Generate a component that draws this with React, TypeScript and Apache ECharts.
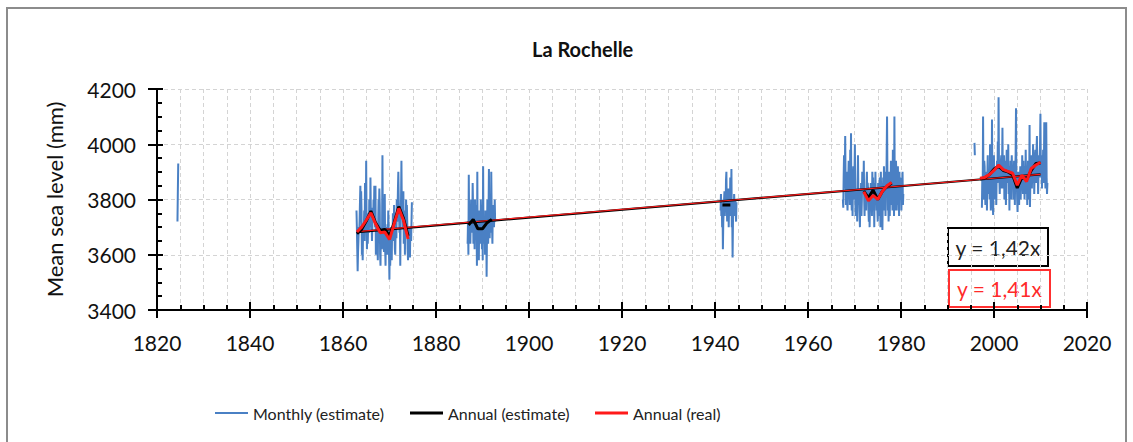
import React, { useEffect, useRef } from "react";
import * as echarts from "echarts";

// ---- Data ----
const xMin = 1820;
const xMax = 2020;
const yMin = 3400;
const yMax = 4200;

// Monthly (estimate) segments: start year + monthly values
const m1824Start = 1824.4;
const m1824 = [3720, 3830, 3930];

const m1863Start = 1862.9;
const m1863 = [
  3760, 3700, 3620, 3540, 3610, 3650, 3700, 3680, 3720, 3790, 3850, 3720,
  3830, 3760, 3600, 3640, 3580, 3690, 3650, 3700, 3760, 3650, 3860, 3720,
  3700, 3940, 3720, 3620, 3690, 3640, 3700, 3750, 3680, 3800, 3760, 3700,
  3880, 3760, 3690, 3720, 3650, 3700, 3770, 3720, 3800, 3740, 3850, 3760,
  3700, 3850, 3600, 3680, 3640, 3710, 3660, 3580, 3720, 3800, 3760, 3840,
  3780, 3600, 3560, 3700, 3640, 3620, 3690, 3960, 3700, 3650, 3630, 3610,
  3740, 3820, 3620, 3560, 3700, 3650, 3690, 3600, 3710, 3640, 3760, 3700,
  3600, 3510, 3680, 3560, 3640, 3700, 3620, 3580, 3700, 3650, 3750, 3720,
  3650, 3780, 3700, 3620, 3600, 3690, 3740, 3660, 3800, 3720, 3760, 3840,
  3900, 3800, 3740, 3680, 3720, 3560, 3740, 3800, 3940, 3760, 3820, 3780,
  3700, 3830, 3640, 3660, 3720, 3600, 3760, 3700, 3800, 3740, 3780, 3720,
  3620, 3580, 3700, 3640, 3600, 3680, 3590, 3700, 3660, 3650, 3720, 3790,
];

const m1887Start = 1886.8;
const m1887 = [
  3640, 3720, 3600, 3890, 3700, 3660, 3780, 3640, 3720, 3800, 3760, 3680,
  3700, 3860, 3780, 3640, 3700, 3740, 3620, 3800, 3680, 3760, 3780, 3720,
  3560, 3900, 3640, 3700, 3620, 3580, 3760, 3680, 3720, 3640, 3800, 3740,
  3700, 3620, 3780, 3580, 3920, 3660, 3700, 3640, 3720, 3600, 3760, 3680,
  3740, 3520, 3680, 3800, 3700, 3640, 3760, 3910, 3700, 3660, 3780, 3720,
  3680, 3900, 3760, 3700, 3640, 3780, 3720, 3760, 3700, 3740, 3800, 3720,
];

const m1941Start = 1941.2;
const m1941 = [
  3760, 3820, 3740, 3800, 3700, 3780, 3620, 3720, 3760, 3800, 3830, 3740,
  3820, 3760, 3870, 3900, 3780, 3720, 3800, 3760, 3840, 3700, 3780, 3820,
  3760, 3880, 3740, 3800, 3910, 3700, 3760, 3590, 3720, 3800, 3760, 3820,
  3780, 3740, 3800, 3760, 3720, 3790,
];

const m1967Start = 1967.5;
const m1967 = [
  3800, 3770, 3880, 3960, 3840, 3900,
  4030, 3860, 3780, 3820, 3900, 3800, 3760, 3840, 3880, 3940, 3820, 3860,
  3780, 3980, 3860, 4040, 3800, 3760, 3820, 3740, 3880, 3920, 3800, 3840,
  3900, 4000, 3800, 3740, 3820, 3760, 3840, 3720, 3860, 3960, 3820, 3780,
  3840, 3760, 3700, 3820, 3780, 3860, 3740, 3800, 3900, 3840, 3880, 3820,
  3940, 3800, 3740, 3840, 3780, 3820, 3760, 3860, 3900, 3800, 3860, 3840,
  3760, 3720, 3840, 3700, 3800, 3760, 3860, 3780, 3820, 3740, 3900, 3840,
  3880, 3760, 3820, 3700, 3860, 3780, 3900, 3800, 3840, 3760, 3820, 3760,
  3720, 3860, 3760, 3820, 3740, 3880, 3790, 3700, 3900, 3800, 3760, 3860,
  3690, 3800, 3880, 3760, 3920, 3840, 3780, 3860, 3740, 3900, 3820, 3960,
  4100, 3880, 3760, 3820, 3720, 3800, 3900, 3740, 3860, 3800, 3940, 3880,
  3780, 3900, 3760, 3980, 3820, 3860, 3740, 4100, 3800, 3880, 3760, 3940,
  3900, 3760, 3840, 3780, 3920, 3800, 3860, 3740, 3900, 3820, 3860, 3800,
  3880, 3760, 3840, 3800, 3900, 3780, 3820,
];

const m1996Start = 1995.8;
const m1996 = [4005, 3960];

const m1997Start = 1997.4;
const m1997 = [
  3770, 3880, 3820, 4100, 3860, 3800, 3940,
  3920, 3840, 3780, 3860, 3800, 3900, 3760, 3880, 3960, 3820, 3900, 3860,
  3880, 3800, 4000, 3840, 3760, 3900, 3820, 4090, 3860, 3780, 3744, 3920,
  3960, 3860, 3900, 3800, 3840, 3920, 3780, 3880, 3940, 3860, 4010, 3900,
  4170, 3940, 3880, 3820, 3900, 3860, 3940, 3960, 3840, 3920, 4060, 3880,
  3900, 3840, 3960, 3800, 3880, 3940, 3860, 3780, 3920, 3980, 3860, 3940,
  3880, 4000, 3820, 3900, 3760, 3920, 3860, 3940, 3800, 3880, 3960, 3900,
  3840, 3920, 3800, 3880, 3940, 3860, 3780, 3900, 3960, 4130, 3840, 3880,
  3800, 3755, 3860, 3900, 3820, 3780, 3880, 3840, 3920, 3800, 3860, 3900,
  3840, 3960, 3880, 3820, 3940, 3860, 3920, 3800, 3900, 3840, 3980, 3880,
  3820, 3900, 3780, 3860, 3940, 3800, 3880, 3840, 4070, 3773, 3860, 3900,
  3880, 3960, 3840, 3920, 3860, 4000, 3880, 3940, 3820, 3900, 3960, 3980,
  3900, 3860, 3980, 4030, 3880, 3940, 3820, 3900, 3960, 3880, 3940, 4000,
  4110, 3920, 3880, 3960, 3840, 3940, 3900, 3980, 3860, 3920, 4080, 3960,
  3900, 3840, 3960, 4080, 3880, 3820, 3860,
];

// Annual (estimate) segments
const estYearsA = [1863, 1864, 1865, 1866, 1867, 1868, 1869, 1870, 1871, 1872, 1873, 1874];
const estValsA = [3676, 3692, 3722, 3758, 3716, 3688, 3692, 3668, 3716, 3774, 3732, 3668];
const estYearsB = [1887, 1888, 1889, 1890, 1891, 1892];
const estValsB = [3708, 3728, 3694, 3694, 3716, 3728];
const estYearsC = [1941.6, 1943.3];
const estValsC = [3780, 3780];
const estYearsD = [1972, 1973, 1974, 1975, 1976, 1977, 1978];
const estValsD = [3830, 3806, 3834, 3800, 3830, 3848, 3860];
const estYearsE = [1997, 1998, 1999, 2000, 2001, 2002, 2003, 2004, 2005, 2006, 2007, 2008, 2009, 2010];
const estValsE = [3874, 3878, 3890, 3910, 3920, 3905, 3900, 3890, 3842, 3880, 3872, 3905, 3930, 3932];

// Annual (real) segments
const realYearsA = [1863, 1864, 1865, 1866, 1867, 1868, 1869, 1870, 1871, 1872, 1873, 1874];
const realValsA = [3682, 3700, 3725, 3752, 3712, 3680, 3682, 3655, 3712, 3768, 3725, 3657];
const realYearsD = [1972, 1973, 1974, 1975, 1976, 1977, 1978];
const realValsD = [3828, 3795, 3815, 3800, 3830, 3850, 3862];
const realYearsE = [1997, 1998, 1999, 2000, 2001, 2002, 2003, 2004, 2005, 2006, 2007, 2008, 2009, 2010];
const realValsE = [3877, 3880, 3890, 3905, 3925, 3908, 3902, 3895, 3852, 3888, 3865, 3912, 3925, 3935];

// Linear trends
const trendYears = [1863, 2010];
const trendEstVals = [3682, 3891];
const trendRealVals = [3684, 3891];

const eqEst = "y = 1,42x";
const eqReal = "y = 1,41x";

const NAME_M = "Monthly (estimate)";
const NAME_E = "Annual (estimate)";
const NAME_R = "Annual (real)";

const FONT = "Lato, 'Liberation Sans', sans-serif";
const BLUE = "#4a80c4";
const RED = "#ff1a1a";

function monthly(start: number, vals: number[]) {
  return vals.map((v, i) => [start + i / 12, v]);
}
function pairs(xs: number[], ys: number[]) {
  return xs.map((x, i) => [x, ys[i]]);
}

export default function App() {
  const ref = useRef<HTMLDivElement>(null);
  useEffect(() => {
    if (!ref.current) return;
    const chart = echarts.init(ref.current, undefined, { renderer: "svg" });

    const lineBase = { type: "line", showSymbol: false, symbol: "none", xAxisIndex: 0, yAxisIndex: 0 } as any;
    const monthlySegs = [
      monthly(m1824Start, m1824),
      monthly(m1863Start, m1863),
      monthly(m1887Start, m1887),
      monthly(m1941Start, m1941),
      monthly(m1967Start, m1967),
      monthly(m1996Start, m1996),
      monthly(m1997Start, m1997),
    ];
    const estSegs = [
      pairs(estYearsA, estValsA),
      pairs(estYearsB, estValsB),
      pairs(estYearsC, estValsC),
      pairs(estYearsD, estValsD),
      pairs(estYearsE, estValsE),
    ];
    const realSegs = [
      pairs(realYearsA, realValsA),
      pairs(realYearsD, realValsD),
      pairs(realYearsE, realValsE),
    ];

    const series: any[] = [];
    monthlySegs.forEach((d) =>
      series.push({ ...lineBase, name: NAME_M, data: d, z: 2, color: BLUE, lineStyle: { color: BLUE, width: 2 } })
    );
    series.push({ ...lineBase, name: "trendEst", data: pairs(trendYears, trendEstVals), z: 3, color: "#000", lineStyle: { color: "#000", width: 2.2 } });
    series.push({ ...lineBase, name: "trendReal", data: pairs(trendYears, trendRealVals), z: 4, color: RED, lineStyle: { color: RED, width: 1.2 } });
    estSegs.forEach((d) =>
      series.push({ ...lineBase, name: NAME_E, data: d, z: 5, color: "#000", lineStyle: { color: "#000", width: 3 } })
    );
    realSegs.forEach((d) =>
      series.push({ ...lineBase, name: NAME_R, data: d, z: 6, color: RED, lineStyle: { color: RED, width: 3 } })
    );

    const gridLine = { show: true, lineStyle: { color: "#d4d4d4", type: [4, 3], width: 1 } };
    const legendBase = {
      top: 400,
      icon: "rect",
      itemWidth: 33,
      itemHeight: 3,
      itemGap: 5,
      textStyle: { fontFamily: FONT, fontSize: 16, color: "#222" },
      selectedMode: false,
    };
    const plain = (v: number) => String(v);

    const option: any = {
      animation: false,
      backgroundColor: "#fff",
      title: {
        text: "La Rochelle",
        left: 527,
        top: 34,
        textStyle: { fontFamily: FONT, fontSize: 20, fontWeight: "bold", color: "#111" },
      },
      grid: { left: 157, top: 89, width: 930, height: 221, containLabel: false },
      xAxis: [
        {
          type: "value",
          min: xMin,
          max: xMax,
          interval: 20,
          position: "bottom",
          axisLine: { show: true, onZero: false, lineStyle: { color: "#000", width: 2 } },
          axisTick: { show: true, inside: false, length: 8, lineStyle: { color: "#000", width: 2 } },
          axisLabel: { margin: 22, fontFamily: FONT, fontSize: 21, color: "#111", formatter: plain },
          splitLine: gridLine,
          minorTick: { show: false, splitNumber: 4 },
          minorSplitLine: gridLine,
        },
        {
          type: "value",
          min: xMin,
          max: xMax,
          interval: 20,
          position: "bottom",
          axisLine: { show: false, onZero: false },
          axisTick: { show: true, inside: true, length: 8, lineStyle: { color: "#000", width: 2 } },
          minorTick: { show: true, splitNumber: 4, length: 5, lineStyle: { color: "#000", width: 2 } },
          axisLabel: { show: false },
          splitLine: { show: false },
        },
      ],
      yAxis: [
        {
          type: "value",
          min: yMin,
          max: yMax,
          interval: 200,
          position: "left",
          name: "Mean sea level (mm)",
          nameLocation: "middle",
          nameGap: 92,
          nameTextStyle: { fontFamily: FONT, fontSize: 22, color: "#111" },
          axisLine: { show: true, onZero: false, lineStyle: { color: "#000", width: 2 } },
          axisTick: { show: true, inside: false, length: 9, lineStyle: { color: "#000", width: 2 } },
          axisLabel: { margin: 21, fontFamily: FONT, fontSize: 21, color: "#111", formatter: plain },
          splitLine: gridLine,
        },
        {
          type: "value",
          min: yMin,
          max: yMax,
          interval: 200,
          position: "left",
          axisLine: { show: false, onZero: false },
          axisTick: { show: true, inside: true, length: 6, lineStyle: { color: "#000", width: 2 } },
          minorTick: { show: true, splitNumber: 4, length: 5, lineStyle: { color: "#000", width: 2 } },
          axisLabel: { show: false },
          splitLine: { show: false },
        },
      ],
      legend: [
        { ...legendBase, left: 210, itemHeight: 2, data: [NAME_M] },
        { ...legendBase, left: 405, data: [NAME_E] },
        { ...legendBase, left: 590, data: [NAME_R] },
      ],
      graphic: [
        {
          type: "rect",
          shape: { x: 7, y: 8, width: 1119, height: 500 },
          style: { fill: "none", stroke: "#8c8c8c", lineWidth: 2 },
          z: -1,
          silent: true,
        },
        {
          type: "group",
          left: 947,
          top: 227,
          z: 100,
          children: [
            { type: "rect", shape: { x: 0, y: 0, width: 100, height: 38 }, style: { fill: "#fff", stroke: "#000", lineWidth: 2 } },
            {
              type: "text",
              x: 50,
              y: 19,
              style: { text: eqEst, fill: "#222", font: `21px ${FONT}`, align: "center", verticalAlign: "middle" },
            },
          ],
        },
        {
          type: "group",
          left: 948,
          top: 269,
          z: 100,
          children: [
            { type: "rect", shape: { x: 0, y: 0, width: 101, height: 37 }, style: { fill: "#fff", stroke: "#ff3030", lineWidth: 2 } },
            {
              type: "text",
              x: 50.5,
              y: 18.5,
              style: { text: eqReal, fill: "#ff2a2a", font: `21px ${FONT}`, align: "center", verticalAlign: "middle" },
            },
          ],
        },
      ],
      series,
    };
    chart.setOption(option);
    return () => chart.dispose();
  }, []);

  return (
    <div
      ref={ref}
      style={{ position: "fixed", left: 0, top: 0, width: 1133, height: 442, background: "#fff" }}
    />
  );
}
